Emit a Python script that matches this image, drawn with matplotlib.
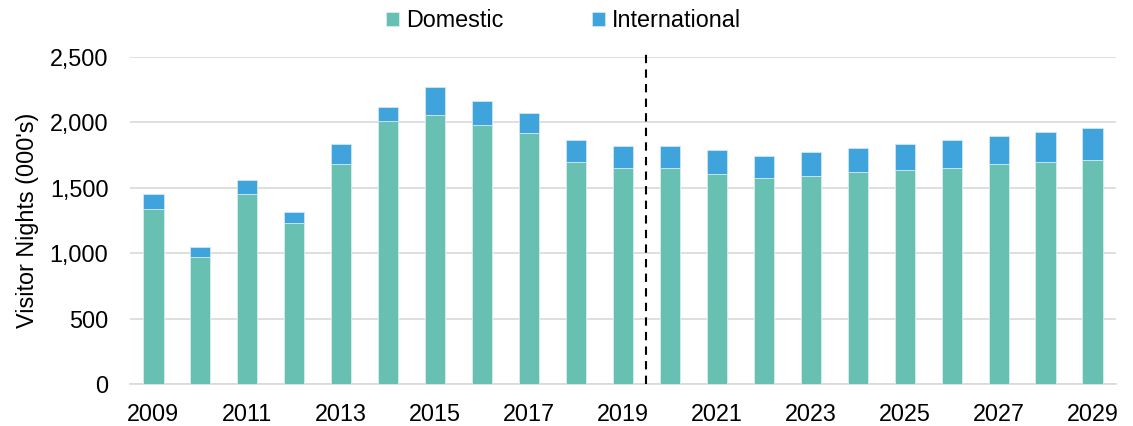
import numpy as np
import matplotlib.pyplot as plt

plt.rcParams['font.family'] = ['Liberation Sans', 'DejaVu Sans']

years = list(range(2009, 2030))
domestic = [1342, 970, 1450, 1235, 1685, 2010, 2056, 1979, 1918, 1701, 1655,
            1655, 1605, 1575, 1590, 1621, 1636, 1655, 1685, 1701, 1716]
total = [1450, 1051, 1557, 1312, 1835, 2115, 2268, 2161, 2069, 1869, 1820,
         1820, 1790, 1741, 1774, 1805, 1836, 1869, 1897, 1928, 1958]
international = [t - d for t, d in zip(total, domestic)]

dom_color = '#68C0B2'
int_color = '#3FA3DC'
fs = 16.8

fig = plt.figure(figsize=(11.33, 4.26), dpi=100)
ax = fig.add_axes([0.1147, 0.0986, 0.8703, 0.7674])

x = np.arange(len(years))
w = 0.43
ax.bar(x, domestic, w, color=dom_color, edgecolor='#d8eeea', linewidth=0.6,
       label='Domestic', zorder=3)
ax.bar(x, international, w, bottom=domestic, color=int_color,
       edgecolor='#cfe6f5', linewidth=0.6, label='International', zorder=3)

# forecast divider
ax.axvline(10.5, color='black', linestyle=(0, (4, 3)), linewidth=1.5,
           ymin=0, ymax=1.01, clip_on=False, zorder=4)

ax.set_xlim(-0.5, len(years) - 0.5)
ax.set_ylim(0, 2500)
ax.set_yticks(range(0, 2501, 500))
ax.set_yticklabels([f'{v:,}' for v in range(0, 2501, 500)])
ax.set_xticks(x[::2])
ax.set_xticklabels([str(y) for y in years[::2]])
ax.yaxis.grid(True, color='#d9d9d9', linewidth=1.2, zorder=0)
ax.set_axisbelow(True)

for s in ['top', 'right', 'left']:
    ax.spines[s].set_visible(False)
ax.spines['bottom'].set_color('#d9d9d9')
ax.spines['bottom'].set_linewidth(1.2)
ax.tick_params(axis='both', length=0, labelsize=fs, colors='black')
ax.tick_params(axis='x', pad=14)
ax.tick_params(axis='y', pad=15.5)
ax.set_ylabel("Visitor Nights (000's)", fontsize=fs, labelpad=8)

ax.legend(loc='center', bbox_to_anchor=(0.44, 1.112), ncol=2,
          frameon=False, fontsize=fs, handlelength=0.55, handleheight=0.55,
          handletextpad=0.3, columnspacing=3.8, borderpad=0)

fig.savefig('out.png', dpi=100)
